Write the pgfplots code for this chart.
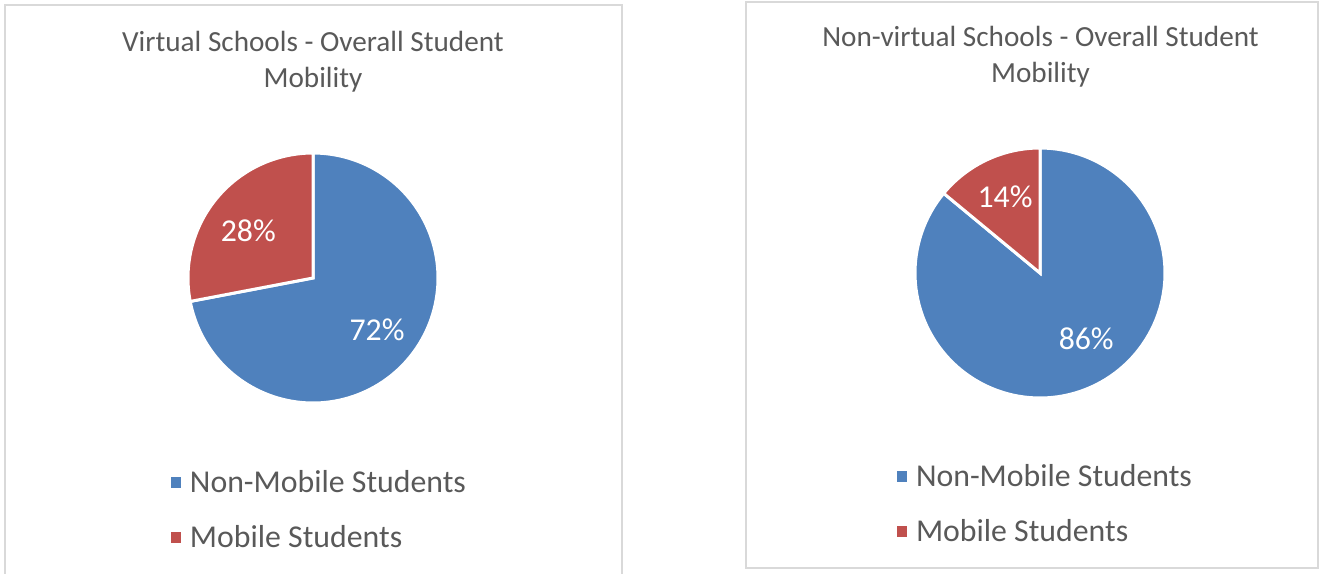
\documentclass[border=0pt]{standalone}
\usepackage{fontspec}
\setmainfont{Carlito}
\usepackage{pgfplots}
\pgfplotsset{compat=1.18}
\usepgfplotslibrary{polar}

\definecolor{pieblue}{HTML}{4F81BD}
\definecolor{piered}{HTML}{C0504D}
\definecolor{txtgray}{HTML}{595959}
\definecolor{boxgray}{HTML}{D9D9D9}

% shares in percent
\def\virtNon{72}  \def\virtMob{28}
\def\realNon{86}  \def\realMob{14}

\pgfplotsset{
  piestyle/.style={
    width=125pt, height=125pt, scale only axis,
    hide axis, ymin=0, ymax=1, clip=false,
    legend style={draw=none, fill=none, text=txtgray,
      font=\fontsize{15.9}{19}\selectfont, cells={anchor=west}, row sep=11pt},
    legend image code/.code={\fill[##1,draw=none] (0pt,-2.6pt) rectangle (5.2pt,2.6pt);
      \path[draw=none] (7.5pt,0pt);},
  },
  wedge/.style={fill=#1, draw=white, line width=1.5pt, samples=120},
}

\begin{document}
\begin{tikzpicture}
\useasboundingbox (0,0) rectangle (666.5pt,-286.5pt);
\begin{scope}
  \clip (0,0) rectangle (666.5pt,-286.5pt);
  \draw[boxgray, line width=0.75pt] (2.5pt,-2.5pt) rectangle (311pt,-300pt);
  \draw[boxgray, line width=0.75pt] (373pt,-1pt) rectangle (659pt,-284pt);
\end{scope}

\node[txtgray, font=\fontsize{14.6}{18}\selectfont, align=center] at (156.5pt,-31pt)
  {Virtual Schools - Overall Student\\Mobility};
\node[txtgray, font=\fontsize{14.6}{18}\selectfont, align=center] at (520.25pt,-28.25pt)
  {Non-virtual Schools - Overall Student\\Mobility};

\pgfmathsetmacro{\a}{90-3.6*\virtNon}
\begin{polaraxis}[piestyle, at={(156.5pt,-139pt)}, anchor=center,
    legend style={at={(0.53,-0.428)}, anchor=center}]
  \addplot[wedge=pieblue, domain=\a:90] {1} -- (axis cs:0,0) -- cycle;
  \addlegendentry{Non-Mobile Students}
  \addplot[wedge=piered, domain=-270:\a] {1} -- (axis cs:0,0) -- cycle;
  \addlegendentry{Mobile Students}
  \node[white, font=\fontsize{15.9}{19}\selectfont] at (axis cs:-39.1,0.66) {72\%};
  \node[white, font=\fontsize{15.9}{19}\selectfont] at (axis cs:144,0.64) {28\%};
\end{polaraxis}

\pgfmathsetmacro{\b}{90-3.6*\realNon}
\begin{polaraxis}[piestyle, at={(520pt,-136.5pt)}, anchor=center,
    legend style={at={(0.526,-0.424)}, anchor=center}]
  \addplot[wedge=pieblue, domain=\b:90] {1} -- (axis cs:0,0) -- cycle;
  \addlegendentry{Non-Mobile Students}
  \addplot[wedge=piered, domain=-270:\b] {1} -- (axis cs:0,0) -- cycle;
  \addlegendentry{Mobile Students}
  \node[white, font=\fontsize{15.9}{19}\selectfont] at (axis cs:-54.7,0.64) {86\%};
  \node[white, font=\fontsize{15.9}{19}\selectfont] at (axis cs:114.7,0.67) {14\%};
\end{polaraxis}
\end{tikzpicture}
\end{document}
